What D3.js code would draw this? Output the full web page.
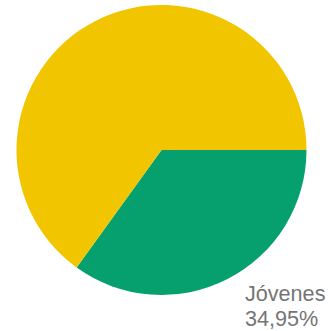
<!DOCTYPE html>
<html><head><meta charset="utf-8">
<script src="https://cdn.jsdelivr.net/npm/d3@7/dist/d3.min.js"></script>
<style>html,body{margin:0;padding:0;background:#fff;overflow:hidden}</style>
</head><body><svg id="c" width="328" height="331"></svg>
<script>
const categories = ["Jóvenes", "Otros"];
const values = [34.95, 65.05];
const colors = ["#06a06e", "#f1c500"];
const labels = ["Jóvenes", "34,95%"];

const svg = d3.select("#c");
const cx = 161.5, cy = 150, r = 145;
const pie = d3.pie().sort(null).startAngle(Math.PI / 2).endAngle(Math.PI / 2 + 2 * Math.PI);
const arc = d3.arc().innerRadius(0).outerRadius(r);
const g = svg.append("g").attr("transform", `translate(${cx},${cy})`);
g.selectAll("path").data(pie(values)).join("path")
  .attr("d", arc).attr("fill", (d, i) => colors[i]);

const t = svg.append("text").attr("x", 245).attr("y", 301)
  .attr("font-family", "Liberation Sans, Arial, sans-serif").attr("font-size", 21.6)
  .attr("fill", "#757575");
t.selectAll("tspan").data(labels).join("tspan")
  .attr("x", 245).attr("dy", (d, i) => i ? 25 : 0).text(d => d);
</script></body></html>
